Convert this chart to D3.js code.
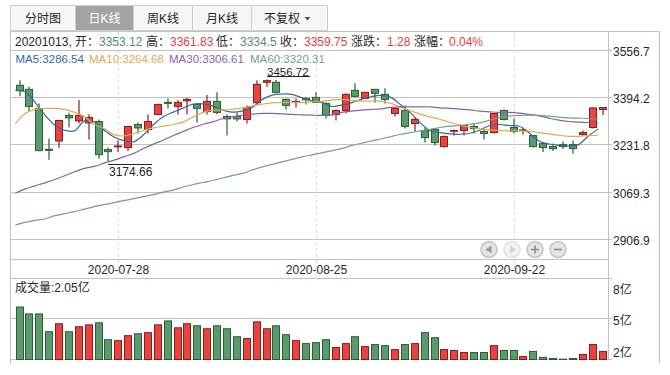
<!DOCTYPE html>
<html>
<head>
<meta charset="utf-8">
<script src="https://cdn.jsdelivr.net/npm/d3@7"></script>
<style>
  html, body { margin: 0; padding: 0; background: #fff; }
  svg { display: block; }
  text { font-family: "Liberation Sans", "Noto Sans CJK SC", sans-serif; font-size: 12px; fill: #262626; }
</style>
</head>
<body>
<div id="chart"></div>
<script>
// Daily K-line values, one entry per trading day
const opens = [3436.4,3422.5,3356.9,3216.2,3244.9,3332.7,3314,3307.1,3311.9,3215.2,3224.9,3222.1,3301.6,3284.3,3336.1,3377.6,3363.8,3383.1,3370.7,3346.5,3381.1,3329.2,3329.2,3318.9,3376.2,3446.7,3446.7,3388,3377.6,3391.4,3394.9,3374.2,3336.1,3350,3419.1,3391.4,3422.5,3405.3,3339.6,3350,3305,3280.8,3284.3,3225.5,3278.4,3280.8,3294.7,3277.4,3273.9,3350,3291.2,3280.8,3263.6,3235.9,3225.5,3232.5,3232.5,3267,3291.2,3353.12];
const highs = [3453.6,3431.5,3374.2,3253.2,3316,3341.7,3385.6,3337.2,3318.9,3222.1,3246.3,3296,3308.5,3336.1,3372,3391.4,3385.6,3393.5,3374.2,3402.8,3412.2,3336.1,3343.1,3367.2,3453.6,3456.72,3455,3391.4,3391.4,3394.9,3412.2,3377.6,3353.4,3408.7,3443.3,3414,3424,3426,3360.3,3367.2,3325.8,3291.2,3287.8,3263.6,3284.3,3299,3305,3287.8,3341,3353.4,3322.3,3291.2,3265,3239.4,3235.9,3242.8,3246.3,3280.8,3360.3,3361.83];
const lows = [3398.3,3347.5,3210,3180.6,3220.7,3291.2,3305,3249.7,3184.1,3174.66,3206.9,3210.3,3270.5,3270.5,3333.7,3356.9,3336.1,3336.1,3308.5,3336.1,3336.1,3263.6,3311.9,3305,3370.7,3431.5,3408.7,3353.4,3360.3,3370.7,3376,3322.3,3315.4,3339.6,3394.9,3390,3377.6,3374.2,3329.2,3287.8,3277.4,3239.4,3229,3222.1,3263.6,3263.6,3270.5,3249.7,3270.5,3315.4,3270.5,3267,3222.1,3206.9,3210.3,3218.6,3201.4,3263.6,3287.8,3334.5];
const closes = [3417.7,3363.8,3211.7,3212.8,3315.4,3324.4,3332.7,3325.8,3197.9,3208.3,3227.6,3294.7,3289.8,3311.9,3370.7,3374.2,3377.6,3388,3356.9,3381.1,3343.1,3320.9,3320.9,3360.3,3439.8,3452.3,3412.2,3367.2,3381.1,3386.6,3377.6,3333.7,3350,3405.3,3398.3,3412.2,3408.7,3388,3356.9,3294.7,3318.9,3256.7,3239.4,3260.1,3280.8,3298.1,3287.8,3270.5,3339.6,3318.9,3277.4,3282.9,3225.5,3222.1,3218.6,3225.5,3218.6,3273.9,3358.47,3359.75];

const ma5 = [3420.1,3414.2,3377.6,3333.7,3299.2,3281.9,3279.5,3314,3310.6,3281.9,3258.7,3246.3,3242.8,3267,3301.6,3329.2,3344.1,3358.9,3371.7,3372.8,3364.8,3351,3344.1,3348.6,3361.4,3388,3402.8,3406.3,3405.3,3393.5,3383.1,3377.6,3363.8,3368.3,3376.2,3388,3397,3401.8,3394.9,3369.3,3341.7,3307.1,3279.5,3273.9,3269.1,3268.1,3271.5,3281.9,3298.1,3301.6,3298.1,3295.7,3272.5,3244.9,3234.5,3230,3227.6,3232.5,3262.2,3286.54];
const ma10 = [3305,3339.6,3353.4,3356.9,3356.9,3353.4,3343.1,3327.8,3302.6,3287.8,3267,3262.2,3270.5,3281.9,3289.8,3295.7,3301.6,3310.6,3327.8,3343.1,3351,3351,3354.5,3357.9,3365.9,3371.7,3376.2,3377.6,3377.6,3377.6,3379.7,3381.1,3385.6,3388,3384.5,3382.1,3382.1,3382.1,3374.2,3361.4,3348.6,3337.2,3327.8,3318.9,3308.5,3300.2,3292.2,3286.4,3282.9,3280.8,3279.5,3279.5,3278.1,3273.9,3269.1,3264.6,3261.1,3261.1,3263.6,3264.68];
const ma30 = [3065.2,3080.4,3090.8,3101.1,3112.5,3125.3,3139.1,3150.6,3157.5,3168.9,3179.2,3191,3202.4,3219.7,3234.5,3248.4,3263.6,3277.4,3291.2,3302.6,3310.6,3322.3,3327.8,3333.7,3337.2,3339.6,3339.6,3338.2,3336.1,3334.8,3333.7,3332.7,3333.7,3343.1,3347.5,3351,3353.4,3355.5,3360.3,3362.4,3362.4,3362.4,3362.4,3358.9,3356.9,3354.5,3352,3347.5,3345.1,3343.1,3343.1,3340.6,3336.1,3331.3,3323.4,3316.4,3311.9,3309.5,3308.5,3306.61];
const ma60 = [2956,2965,2971.9,2976.7,2988.1,2995,3001.9,3010.6,3019.2,3026.2,3033,3040,3046.9,3053.8,3060.7,3069.3,3076.2,3086.6,3095.3,3102.2,3109.1,3117.7,3126.4,3133.3,3145.4,3155.7,3164.4,3173,3181.7,3190.3,3197.2,3204.1,3211,3218.6,3229,3237,3244.9,3251.8,3260.1,3268.1,3273.9,3279.5,3285.3,3291.2,3295.7,3298.1,3302.6,3307.1,3316.4,3325.8,3330.3,3332.7,3333.7,3332.7,3330.3,3326.8,3324.4,3323.4,3322.3,3320.31];

// volume, in 亿
const volumes = [5.88,5.37,5.37,4.05,4.64,4.05,4.42,4.56,4.71,3.46,3.39,3.76,3.9,3.98,4.56,4.85,4.34,4.64,4.49,4.27,4.49,4.27,3.68,3.54,4.78,4.27,4.49,3.83,3.39,3.17,3.24,3.46,2.88,3.17,3.68,2.95,3.1,3.02,2.73,3.1,3.17,3.98,3.61,2.73,2.66,2.51,2.51,2.51,3.02,2.66,2.66,2.22,2.59,2.15,2.07,2.02,2.07,2.37,3.1,2.59];

const priceTicks = [3556.7, 3394.2, 3231.8, 3069.3, 2906.9];
const volumeTicks = [8, 5, 2];
const dateTicks = ['2020-07-28', '2020-08-25', '2020-09-22'];
const dateTickIndex = [10, 30, 50];
const tabs = ['分时图', '日K线', '周K线', '月K线', '不复权'];
const maNames = ['MA5', 'MA10', 'MA30', 'MA60'];
const maLatest = ['3286.54', '3264.68', '3306.61', '3320.31'];

const W = 670, H = 375;
const GRID = '#c2c2c2', RED = '#e5453c', RED_EDGE = '#8e1a1c', GREEN = '#5a9a6e', GREEN_EDGE = '#2a5f2e';
const INK = '#262626';
const maColors = ['#34699d', '#e6a854', '#8f5fa6', '#6ea583'];

const svg = d3.select('#chart').append('svg').attr('width', W).attr('height', H);

const left = 10.5, axisX = 608.5, right = 659.5;
const xScale = d3.scaleLinear().domain([0, 59]).range([20, 603]);
const yScale = d3.scaleLinear().domain([2906.9, 3556.7]).range([239.3, 50.3]);
const volScale = d3.scaleLinear().domain([2, 8]).range([359.4, 278.4]);
const cx = i => Math.floor(xScale(i));
const crisp = v => Math.floor(v) + 0.5;

// Tabs
const tabEdges = [10.5, 75.5, 133.5, 192.5, 251.5, 327.5];
const tabG = svg.append('g');
tabs.forEach((t, i) => {
  tabG.append('rect')
    .attr('x', tabEdges[i]).attr('y', 5.5)
    .attr('width', tabEdges[i + 1] - tabEdges[i]).attr('height', 25)
    .attr('fill', i === 1 ? '#a3a3a3' : '#f6f6f6').attr('stroke', '#cfcfcf');
  tabG.append('text')
    .attr('x', i === 4 ? 282 : (tabEdges[i] + tabEdges[i + 1]) / 2).attr('y', 23)
    .attr('text-anchor', 'middle').style('fill', i === 1 ? '#fff' : INK)
    .text(t);
});
tabG.append('path').attr('d', d3.line()([[304.5, 17], [310.5, 17], [307.5, 20.5]])).attr('fill', '#555');

// Frame
const frame = svg.append('g').attr('stroke', GRID).attr('fill', 'none');
frame.append('line').attr('x1', left).attr('x2', right).attr('y1', 31.5).attr('y2', 31.5);
frame.append('line').attr('x1', left).attr('x2', left).attr('y1', 31.5).attr('y2', 363);
frame.append('line').attr('x1', axisX).attr('x2', axisX).attr('y1', 31.5).attr('y2', 360);
frame.append('line').attr('x1', right).attr('x2', right).attr('y1', 31.5).attr('y2', 363);
frame.append('line').attr('x1', left).attr('x2', axisX).attr('y1', 259.5).attr('y2', 259.5);

// Date guides
dateTickIndex.forEach((d, i) => {
  const x = cx(d) + 0.5;
  svg.append('line')
    .attr('x1', x).attr('x2', x).attr('y1', 32).attr('y2', 278)
    .attr('stroke', '#dcdcdc').attr('stroke-dasharray', '3,3');
  svg.append('text').attr('x', x).attr('y', 274).attr('text-anchor', 'middle').text(dateTicks[i]);
});

// Price axis
priceTicks.forEach(t => {
  const y = crisp(yScale(t));
  svg.append('line').attr('x1', left).attr('x2', 612).attr('y1', y).attr('y2', y).attr('stroke', GRID);
  svg.append('text').attr('x', 613).attr('y', y + 5.5).text(t.toFixed(1));
});

// Volume axis
const volLabelY = { 8: 293.5, 5: 324.5, 2: 356.5 };
volumeTicks.forEach(t => {
  const y = crisp(volScale(t));
  svg.append('line').attr('x1', left).attr('x2', 612).attr('y1', y).attr('y2', y).attr('stroke', GRID);
  svg.append('text').attr('x', 613).attr('y', volLabelY[t]).text(`${t}亿`);
});

// Candles
const isUp = i => closes[i] >= opens[i];
const candles = svg.append('g').selectAll('g').data(d3.range(opens.length)).join('g');
candles.append('line')
  .attr('x1', cx).attr('x2', cx)
  .attr('y1', i => yScale(highs[i])).attr('y2', i => yScale(lows[i]))
  .attr('stroke', i => isUp(i) ? RED_EDGE : GREEN_EDGE).attr('stroke-width', 1.2);
candles.append('rect')
  .attr('x', i => cx(i) - 3.5).attr('width', 7)
  .attr('y', i => yScale(Math.max(opens[i], closes[i])))
  .attr('height', i => Math.max(0.6, Math.abs(yScale(opens[i]) - yScale(closes[i]))))
  .attr('fill', i => isUp(i) ? RED : GREEN)
  .attr('stroke', i => isUp(i) ? RED_EDGE : GREEN_EDGE);

// Moving averages sit half a step left of their candles
const maOffset = -4.7;
[ma5, ma10, ma30, ma60].forEach((series, k) => {
  const line = d3.line()
    .x((_, i) => xScale(i) + maOffset)
    .y(d => yScale(d))
    .curve(d3.curveCatmullRom);
  svg.append('path').datum(series)
    .attr('d', line).attr('fill', 'none')
    .attr('stroke', maColors[k]).attr('stroke-width', 1.2);
});

// Volume bars
svg.append('g').selectAll('rect').data(volumes).join('rect')
  .attr('x', (_, i) => cx(i) - 3.5).attr('width', 7)
  .attr('y', d => volScale(d))
  .attr('height', d => 359.5 - volScale(d))
  .attr('fill', (_, i) => isUp(i) ? RED : GREEN)
  .attr('stroke', (_, i) => isUp(i) ? RED_EDGE : GREEN_EDGE);

// Header row
const TXT_GREEN = '#4d9268', TXT_RED = '#e8413c';
const header = [
  ['20201013,', 15, INK], ['开：', 75, INK], ['3353.12', 99, TXT_GREEN],
  ['高：', 146, INK], ['3361.83', 170, TXT_RED], ['低：', 216, INK],
  ['3334.5', 240, TXT_GREEN], ['收：', 280, INK], ['3359.75', 304, TXT_RED],
  ['涨跌：', 351, INK], ['1.28', 387, TXT_RED], ['涨幅：', 414, INK], ['0.04%', 449, TXT_RED]
];
header.forEach(([t, x, c]) => {
  svg.append('text').attr('x', x).attr('y', 46).style('fill', c).text(t);
});

// MA legend
const legendX = [15.5, 89, 169, 250];
maNames.forEach((n, i) => {
  svg.append('text').attr('x', legendX[i]).attr('y', 63)
    .style('font-size', '11.5px')
    .style('fill', maColors[i]).text(`${n}:${maLatest[i]}`);
});

// Extreme labels
const hiX = cx(d3.range(highs.length).reduce((a, b) => highs[b] > highs[a] ? b : a));
const loX = cx(d3.range(lows.length).reduce((a, b) => lows[b] < lows[a] ? b : a));
svg.append('text').attr('x', 267).attr('y', 75.5).style('font-size', '11.5px').text(d3.max(highs).toFixed(2));
svg.append('line').attr('x1', hiX).attr('x2', 310).attr('y1', 76.5).attr('y2', 76.5).attr('stroke', INK);
svg.append('text').attr('x', 109).attr('y', 176).text(d3.min(lows).toFixed(2));
svg.append('line').attr('x1', loX).attr('x2', 152).attr('y1', 164.5).attr('y2', 164.5).attr('stroke', INK);

// Volume caption
svg.append('text').attr('x', 15).attr('y', 292).text('成交量:2.05亿');

// Navigation buttons
const navX = [489, 512, 535, 558];
const nav = svg.append('g');
navX.forEach((x, i) => {
  const light = i === 1;
  nav.append('circle').attr('cx', x).attr('cy', 249.5).attr('r', 8)
    .attr('fill', light ? '#f2f2f2' : '#e4e4e4')
    .attr('stroke', light ? '#e2e2e2' : '#c6c6c6').attr('stroke-width', 1.6);
});
nav.append('path').attr('d', 'M491.5 245.5V253.5L485.5 249.5Z').attr('fill', '#999');
nav.append('path').attr('d', 'M510 245.5V253.5L516 249.5Z').attr('fill', '#d4d4d4');
nav.append('path').attr('d', 'M531 249.5H539M535 245.5V253.5').attr('stroke', '#8c8c8c').attr('stroke-width', 1.6);
nav.append('path').attr('d', 'M554 249.5H562').attr('stroke', '#8c8c8c').attr('stroke-width', 1.6);
</script>
</body>
</html>
